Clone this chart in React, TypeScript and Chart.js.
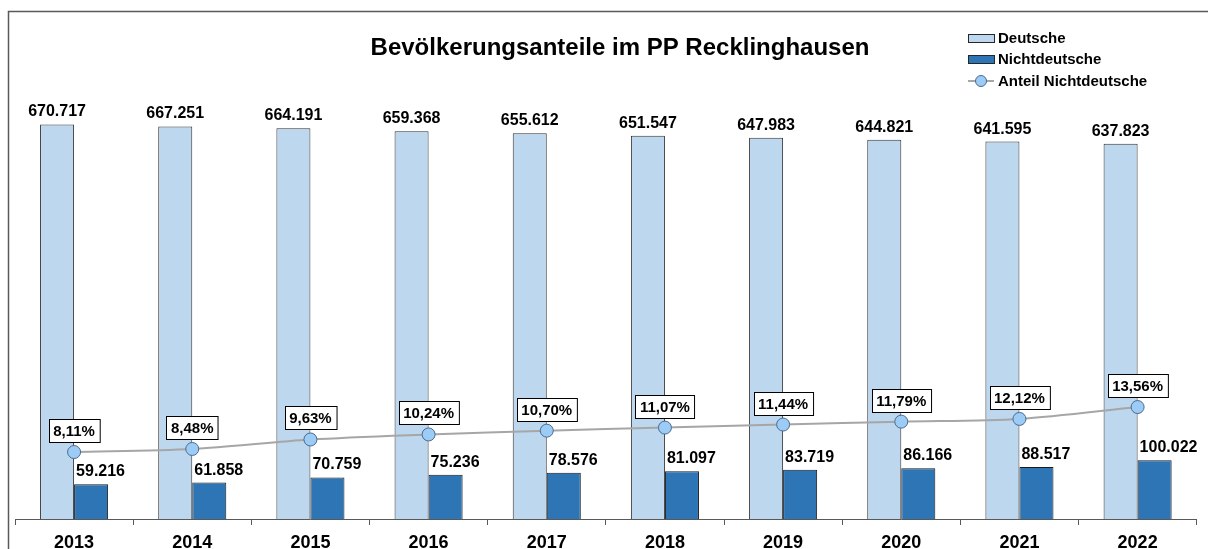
import React, { useEffect, useRef } from "react";
import { Chart, registerables } from "chart.js";

Chart.register(...registerables);

const years = ["2013", "2014", "2015", "2016", "2017", "2018", "2019", "2020", "2021", "2022"];
const deutsche = [670717, 667251, 664191, 659368, 655612, 651547, 647983, 644821, 641595, 637823];
const nichtdeutsche = [59216, 61858, 70759, 75236, 78576, 81097, 83719, 86166, 88517, 100022];
const anteil = [8.11, 8.48, 9.63, 10.24, 10.7, 11.07, 11.44, 11.79, 12.12, 13.56];
const title = "Bevölkerungsanteile im PP Recklinghausen";

const FONT = "'Liberation Sans', Arial, sans-serif";

function fmtInt(v: number): string {
  return String(v).replace(/\B(?=(\d{3})+(?!\d))/g, ".");
}
function fmtPct(v: number): string {
  return v.toFixed(2).replace(".", ",") + "%";
}

const decorPlugin = {
  id: "decor",
  beforeDraw(chart: any) {
    const ctx = chart.ctx;
    ctx.save();
    ctx.fillStyle = "#ffffff";
    ctx.fillRect(0, 0, chart.width, chart.height);
    ctx.restore();
  },
  afterDatasetsDraw(chart: any) {
    const ctx = chart.ctx;
    ctx.save();
    const m0 = chart.getDatasetMeta(0);
    const m1 = chart.getDatasetMeta(1);
    const m2 = chart.getDatasetMeta(2);
    ctx.fillStyle = "#000";
    ctx.font = `bold 16px ${FONT}`;
    ctx.textBaseline = "alphabetic";
    m0.data.forEach((el: any, i: number) => {
      ctx.textAlign = "center";
      ctx.fillText(fmtInt(deutsche[i]), el.x, el.y - 8);
    });
    m1.data.forEach((el: any, i: number) => {
      ctx.textAlign = "left";
      ctx.fillText(fmtInt(nichtdeutsche[i]), el.x - el.width / 2 + 2, el.y - 8);
    });
    ctx.font = `bold 15px ${FONT}`;
    m2.data.forEach((el: any, i: number) => {
      const t = fmtPct(anteil[i]);
      const w = ctx.measureText(t).width + 9;
      const h = 23;
      const x0 = Math.round(el.x - w / 2) + 0.5;
      const y0 = Math.round(el.y - 10 - h) + 0.5;
      ctx.fillStyle = "#fff";
      ctx.fillRect(x0, y0, w, h);
      ctx.strokeStyle = "#000";
      ctx.lineWidth = 1;
      ctx.strokeRect(x0, y0, w, h);
      ctx.fillStyle = "#000";
      ctx.textAlign = "center";
      ctx.textBaseline = "middle";
      ctx.fillText(t, el.x, y0 + h / 2 + 1);
    });
    ctx.restore();
  },
  afterDraw(chart: any) {
    const ctx = chart.ctx;
    ctx.save();
    ctx.strokeStyle = "#595959";
    ctx.lineWidth = 1.5;
    ctx.beginPath();
    ctx.moveTo(8.5, chart.height);
    ctx.lineTo(8.5, 11.5);
    ctx.lineTo(chart.width, 11.5);
    ctx.stroke();
    // category labels
    const xs = chart.scales.x;
    ctx.fillStyle = "#000";
    ctx.font = `bold 18px ${FONT}`;
    ctx.textAlign = "center";
    ctx.textBaseline = "alphabetic";
    chart.data.labels.forEach((lab: string, i: number) => {
      ctx.fillText(lab, xs.getPixelForValue(i), 548);
    });
    // title
    ctx.font = `bold 24px ${FONT}`;
    ctx.fillText(title, 620, 55);
    // legend
    const ds = chart.data.datasets;
    const lx = 968;
    const rows = [38, 59, 81];
    ctx.font = `bold 15px ${FONT}`;
    ctx.textAlign = "left";
    ctx.textBaseline = "middle";
    [0, 1, 2].forEach((k) => {
      const y = rows[k];
      const d = ds[k];
      if (k < 2) {
        ctx.fillStyle = d.backgroundColor;
        ctx.fillRect(lx + 0.5, y - 4 + 0.5, 26, 8);
        ctx.strokeStyle = "#262626";
        ctx.lineWidth = 1;
        ctx.strokeRect(lx + 0.5, y - 4 + 0.5, 26, 8);
      } else {
        ctx.strokeStyle = d.borderColor;
        ctx.lineWidth = 2;
        ctx.beginPath();
        ctx.moveTo(lx, y);
        ctx.lineTo(lx + 26, y);
        ctx.stroke();
        ctx.beginPath();
        ctx.arc(lx + 13, y, 5.5, 0, Math.PI * 2);
        ctx.fillStyle = d.pointBackgroundColor;
        ctx.fill();
        ctx.strokeStyle = d.pointBorderColor;
        ctx.lineWidth = 1;
        ctx.stroke();
      }
      ctx.fillStyle = "#000";
      ctx.fillText(d.label, lx + 30, y + 1);
    });
    ctx.restore();
  },
};

export default function App() {
  const ref = useRef<HTMLCanvasElement | null>(null);
  useEffect(() => {
    document.body.style.margin = "0";
    const canvas = ref.current!;
    const top = 30;
    const bottom = 519;
    const h = bottom - top;
    const chart = new Chart(canvas, {
      type: "bar",
      data: {
        labels: years,
        datasets: [
          {
            type: "bar",
            label: "Deutsche",
            data: deutsche,
            backgroundColor: "#BDD7EE",
            borderColor: "#333333",
            borderWidth: 1,
            yAxisID: "y",
            order: 2,
            categoryPercentage: 0.576,
            barPercentage: 1,
          },
          {
            type: "bar",
            label: "Nichtdeutsche",
            data: nichtdeutsche,
            backgroundColor: "#2E75B6",
            borderColor: "#1a1a1a",
            borderWidth: 1,
            yAxisID: "y",
            order: 2,
            categoryPercentage: 0.576,
            barPercentage: 1,
          },
          {
            type: "line",
            label: "Anteil Nichtdeutsche",
            data: anteil,
            borderColor: "#A6A6A6",
            borderWidth: 2,
            pointRadius: 6.5,
            pointBackgroundColor: "#9CCBF5",
            pointBorderColor: "#4A6C90",
            pointBorderWidth: 1,
            tension: 0.3,
            yAxisID: "y1",
            order: 1,
          } as any,
        ],
      },
      options: {
        animation: false,
        responsive: false,
        maintainAspectRatio: false,
        layout: { padding: { left: 15, right: 11.3, top: top, bottom: 549 - bottom - 6 } },
        plugins: { legend: { display: false }, title: { display: false }, tooltip: { enabled: false } },
        scales: {
          x: {
            offset: true,
            border: { display: true, color: "#595959", width: 1 },
            grid: { display: true, drawOnChartArea: false, drawTicks: true, tickLength: 6, color: "#595959", offset: true },
            ticks: { display: false },
          },
          y: { display: false, min: 0, max: h * 1700 },
          y1: { display: false, position: "right", min: 0, max: h / 8.257 },
        },
      },
      plugins: [decorPlugin],
    });
    return () => chart.destroy();
  }, []);
  return (
    <div style={{ position: "absolute", left: 0, top: 0, width: 1208, height: 549 }}>
      <canvas ref={ref} width={1208} height={549} style={{ width: 1208, height: 549, display: "block" }} />
    </div>
  );
}
